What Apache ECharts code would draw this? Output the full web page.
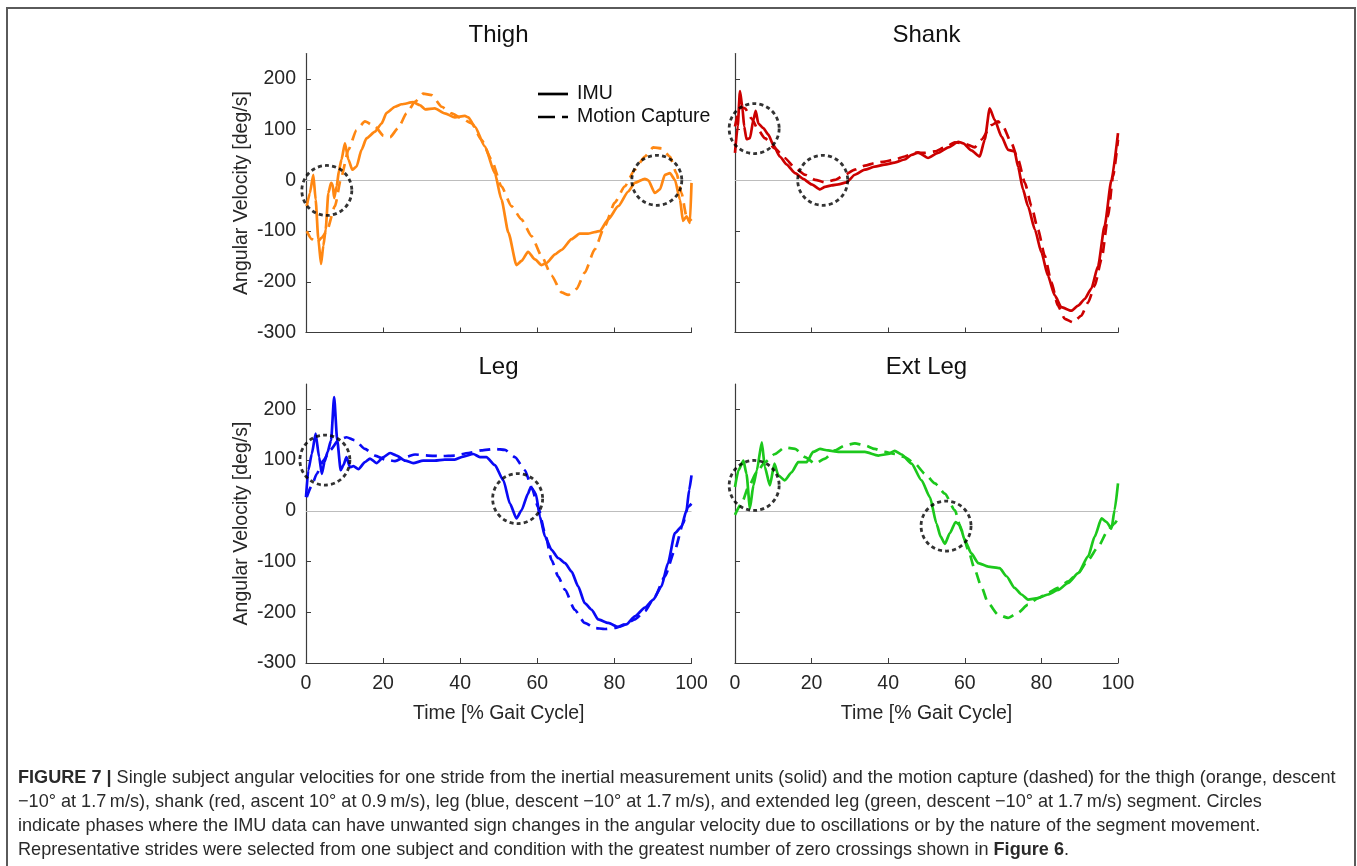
<!DOCTYPE html>
<html>
<head>
<meta charset="utf-8">
<title>Angular velocities per segment</title>
<script src="https://cdn.jsdelivr.net/npm/echarts@6/dist/echarts.min.js"></script>
<style>
  html, body { margin: 0; padding: 0; background: #fff; }
  #chart { width: 1357px; height: 866px; }
</style>
</head>
<body>
<div id="chart"></div>
<script>
// ---- tick values ----
const xTicks = [0, 20, 40, 60, 80, 100];
const yTicks = [-300, -200, -100, 0, 100, 200];

// ---- panel titles and legend entries ----
const panelTitles = ['Thigh', 'Shank', 'Leg', 'Ext Leg'];
const legendNames = ['IMU', 'Motion Capture'];

// ---- Thigh: [gait %, deg/s] ----
const thighImu = [
  [0.2,-51],[1.0,-25],[1.9,11],[2.5,-38],[3.2,-116],[3.9,-165],[4.5,-129],[5.1,-97],
  [5.8,-25],[6.5,-5],[6.9,-8],[7.3,-35],[7.95,-12],[8.6,21],[9.2,41],[10.1,73],
  [11.0,41],[12.0,21],[13.1,27],[14.4,60],[15.7,83],[17.9,96],[19.6,112],[20.9,133],
  [23.1,145],[24.8,150],[27.8,154],[29.6,148],[30.9,140],[33.4,142],[36.0,132],[38.6,124],
  [41.2,127],[42.1,124],[43.8,106],[46.4,67],[49.0,14],[50.7,-38],[52.5,-103],[54.6,-167],
  [55.9,-159],[57.6,-141],[59.4,-156],[61.1,-167],[62.4,-163],[64.6,-146],[66.3,-137],[68.9,-116],
  [71.0,-105],[73.2,-105],[76.2,-100],[78.4,-77],[81.0,-51],[83.6,-22],[85.3,-5],[87.9,3],
  [88.8,0],[90.5,-25],[91.8,-18],[93.1,11],[94.4,14],[95.7,1],[97.0,-38],[97.8,-80],
  [98.7,-71],[99.6,-84],[100,-5]
];
const thighMocap = [
  [0.2,-100],[1.5,-116],[2.8,-123],[4.1,-113],[5.4,-100],[7.5,-51],[9.2,8],[11.0,60],
  [13.1,99],[15.3,116],[17.9,106],[20.1,88],[21.8,85],[23.9,103],[26.1,132],[28.3,155],
  [30.4,171],[32.6,168],[35.2,145],[37.8,132],[40.4,122],[43.0,112],[45.5,80],[48.1,41],
  [50.7,-12],[53.3,-51],[55.9,-77],[58.5,-110],[61.1,-149],[63.7,-188],[66.3,-221],[68.0,-226],
  [70.2,-214],[72.3,-182],[74.9,-136],[77.5,-90],[80.1,-44],[82.7,-12],[85.3,21],[87.9,47],
  [90.1,65],[92.2,63],[94.4,47],[96.1,14],[97.4,-25],[98.7,-71],[100,-80]
];

// ---- Shank ----
const shankImu = [
  [0,54],[0.7,106],[1.3,176],[1.9,145],[2.4,106],[3.0,81],[3.9,83],[4.8,119],[5.4,137],
  [6.1,112],[7.4,103],[8.7,90],[10.0,70],[11.7,47],[13.5,31],[15.7,14],[17.8,3],[20.0,-8],
  [22.2,-18],[23.5,-13],[25.2,-10],[27.0,-8],[29.1,-4],[31.3,11],[33.9,21],[36.5,27],
  [39.1,31],[41.7,35],[44.3,41],[46.1,50],[47.8,55],[50.4,44],[53.0,54],[55.7,65],
  [58.3,76],[59.6,73],[61.7,59],[63.9,47],[65.2,80],[66.5,142],[67.8,119],[69.6,86],
  [71.3,60],[73.0,57],[73.9,27],[75.2,-18],[76.5,-51],[78.3,-97],[80.0,-142],[81.7,-188],
  [83.5,-227],[85.2,-250],[87.8,-257],[89.6,-247],[91.3,-234],[93.0,-214],[94.8,-169],
  [96.5,-90],[98.3,1],[100,93]
];
const shankMocap = [
  [0,106],[1.3,145],[2.6,142],[4.3,122],[6.1,99],[7.8,83],[10.4,63],[13.0,44],[15.7,24],
  [18.3,11],[20.9,1],[23.5,-4],[26.1,1],[28.7,11],[31.3,21],[33.9,29],[36.5,34],[39.1,37],
  [41.7,41],[44.3,47],[46.9,54],[49.6,54],[52.2,57],[54.8,65],[57.4,75],[60.0,72],
  [62.6,65],[64.3,80],[67.0,109],[68.7,116],[70.0,106],[72.2,73],[73.9,41],[75.7,-5],
  [77.4,-51],[79.1,-97],[80.9,-149],[82.6,-201],[84.3,-247],[86.1,-273],[88.3,-280],
  [90.4,-267],[92.2,-241],[93.9,-208],[95.7,-156],[97.4,-71],[98.7,8],[100,80]
];

// ---- Leg ----
const legImu = [
  [0,27],[0.6,80],[1.5,112],[2.5,152],[3.4,106],[4.1,73],[4.8,96],[5.6,116],[6.5,139],
  [7.3,224],[8.1,139],[9.0,80],[9.7,90],[10.5,106],[11.4,86],[12.3,88],[13.6,82],[15.3,96],
  [16.6,103],[18.3,94],[20.1,106],[21.8,114],[23.5,109],[25.7,99],[27.8,94],[30.4,99],
  [33.4,99],[36.0,101],[38.6,101],[40.8,107],[43.4,112],[45.1,106],[46.8,106],[49.0,90],
  [51.2,60],[52.9,14],[54.6,-15],[55.9,1],[57.6,34],[58.3,47],[59.6,34],[60.7,-12],
  [62.0,-51],[63.7,-77],[65.4,-93],[67.2,-103],[68.9,-120],[70.6,-149],[72.3,-182],
  [74.1,-195],[75.8,-214],[78.4,-221],[81.0,-229],[83.1,-224],[85.3,-208],[87.9,-191],
  [90.1,-175],[92.2,-149],[93.9,-103],[95.7,-44],[97.4,-31],[98.7,1],[99.4,41],[100,70]
];
const legMocap = [
  [0.2,27],[1.5,50],[2.8,73],[4.5,99],[6.2,119],[8.4,139],[10.5,145],[12.7,139],[15.3,122],
  [17.9,109],[20.5,101],[23.1,98],[25.7,106],[28.3,111],[31.7,109],[35.2,108],[38.6,109],
  [42.1,114],[45.5,119],[49.0,122],[51.6,120],[54.2,106],[56.8,80],[58.5,47],[60.2,8],
  [62.0,-44],[63.7,-97],[65.4,-129],[67.2,-156],[69.7,-195],[72.3,-221],[74.9,-231],
  [77.5,-233],[80.1,-231],[82.7,-224],[85.3,-214],[87.9,-198],[90.5,-169],[93.1,-129],
  [95.7,-77],[97.8,-25],[99.1,8],[100,14]
];

// ---- Ext Leg ----
const extLegImu = [
  [0,47],[0.9,80],[2.2,99],[3.0,73],[3.9,5],[4.8,50],[5.7,80],[7.0,135],[7.8,86],[9.1,50],
  [10.3,93],[11.3,70],[13.0,60],[14.8,76],[16.5,96],[18.7,96],[20.4,116],[22.2,122],
  [24.3,119],[27.0,116],[30.4,116],[33.9,116],[37.4,109],[40.0,112],[41.7,118],[43.5,111],
  [46.1,93],[48.7,60],[50.9,27],[52.6,-25],[53.7,-51],[54.8,-65],[56.1,-44],[57.6,-22],
  [58.7,-28],[60.0,-58],[61.7,-84],[63.5,-103],[66.1,-110],[69.1,-113],[70.9,-129],
  [73.0,-152],[74.8,-165],[76.5,-175],[79.1,-172],[81.7,-165],[84.3,-156],[87.0,-142],
  [89.6,-123],[92.2,-90],[93.9,-51],[95.7,-15],[97.0,-22],[98.3,-35],[99.1,1],[100,54]
];
const extLegMocap = [
  [0,-8],[1.7,14],[3.5,47],[5.7,76],[7.8,96],[10.4,112],[13.0,125],[15.7,122],[18.3,106],
  [20.9,93],[23.5,103],[26.1,119],[28.7,129],[31.3,133],[33.9,129],[36.5,122],[39.1,116],
  [41.7,112],[44.3,106],[47.0,93],[49.6,73],[52.2,54],[54.8,34],[57.4,1],[59.1,-38],
  [60.9,-77],[62.6,-116],[64.3,-149],[66.1,-182],[68.7,-205],[71.3,-211],[73.9,-201],
  [76.5,-185],[79.1,-172],[81.7,-162],[84.3,-152],[87.0,-139],[89.6,-123],[92.2,-97],
  [94.8,-71],[97.4,-38],[99.1,-25],[100,-15]
];

// ---- highlighted zero-crossing phases (circle centres, [gait %, deg/s]) ----
const thighCircles = [[5.4, -20], [91, 0]];
const shankCircles = [[5.0, 102], [22.9, 0]];
const legCircles = [[4.9, 100], [54.9, 24]];
const extLegCircles = [[5.0, 50], [55.1, -30]];

const imuSets = [thighImu, shankImu, legImu, extLegImu];
const mocapSets = [thighMocap, shankMocap, legMocap, extLegMocap];
const circleSets = [thighCircles, shankCircles, legCircles, extLegCircles];
const colors = ['#FF8712', '#CC0000', '#0A0AF5', '#1CC81C'];

const FONT = 'Liberation Sans, Arial, Helvetica, sans-serif';
const AX = '#3c3c3c';
const TXT = '#262626';
const DASH = [11, 7];

const grids = [
  { left: 306, top: 53.5, width: 385.5, height: 279 },
  { left: 735, top: 53.5, width: 383,   height: 279 },
  { left: 306, top: 384,  width: 385.5, height: 279 },
  { left: 735, top: 384,  width: 383,   height: 279 }
];

const xAxes = grids.map((g, i) => ({
  type: 'value', gridIndex: i, min: 0, max: 100, interval: 20,
  axisLine: { show: true, onZero: false, lineStyle: { color: AX, width: 1.2 } },
  axisTick: { show: true, inside: true, length: 5, lineStyle: { color: AX } },
  axisLabel: { show: i >= 2, margin: 11, color: TXT, fontSize: 19.5, fontFamily: FONT },
  splitLine: { show: false },
  name: i >= 2 ? 'Time [% Gait Cycle]' : '',
  nameLocation: 'middle', nameGap: 41,
  nameTextStyle: { color: TXT, fontSize: 19.5, fontFamily: FONT }
}));

const yAxes = grids.map((g, i) => ({
  type: 'value', gridIndex: i, min: -300, max: 250,
  axisLine: { show: true, onZero: false, lineStyle: { color: AX, width: 1.2 } },
  axisTick: { show: true, inside: true, length: 5, customValues: yTicks, lineStyle: { color: AX } },
  axisLabel: { show: i % 2 === 0, customValues: yTicks, margin: 10, color: TXT, fontSize: 19.5, fontFamily: FONT },
  splitLine: { show: false },
  name: i % 2 === 0 ? 'Angular Velocity [deg/s]' : '',
  nameLocation: 'middle', nameGap: 54, nameRotate: 90,
  nameTextStyle: { color: TXT, fontSize: 19.5, fontFamily: FONT }
}));

const series = [];
imuSets.forEach((data, i) => {
  series.push({
    type: 'line', xAxisIndex: i, yAxisIndex: i, data: data,
    showSymbol: false, symbol: 'none', smooth: 0.2, smoothMonotone: 'x',
    lineStyle: { color: colors[i], width: 2.7, type: 'solid' }, z: 3,
    markLine: {
      silent: true, symbol: ['none', 'none'], label: { show: false },
      lineStyle: { color: '#bdbdbd', width: 1, type: 'solid' },
      data: [{ yAxis: 0 }], z: 1
    }
  });
  series.push({
    type: 'line', xAxisIndex: i, yAxisIndex: i, data: mocapSets[i],
    showSymbol: false, symbol: 'none', smooth: 0.2, smoothMonotone: 'x',
    lineStyle: { color: colors[i], width: 2.7, type: DASH }, z: 2
  });
  series.push({
    type: 'scatter', xAxisIndex: i, yAxisIndex: i, data: circleSets[i],
    symbol: 'circle', symbolSize: 50, silent: true, z: 4,
    itemStyle: { color: 'rgba(0,0,0,0)', borderColor: '#000', borderWidth: 2.8, borderType: [4, 3.2] }
  });
});

const titleCenters = [[498.5, 35], [926.5, 35], [498.5, 367], [926.5, 367]];
const graphics = [
  { type: 'rect', shape: { x: 7, y: 8, width: 1348, height: 900 }, style: { fill: 'none', stroke: '#5a5a5a', lineWidth: 2 }, silent: true }
];
panelTitles.forEach((t, i) => {
  graphics.push({ type: 'text', x: titleCenters[i][0], y: titleCenters[i][1],
    style: { text: t, fill: '#111', font: '24px ' + FONT, textAlign: 'center', textVerticalAlign: 'middle' } });
});

// legend key inside the Thigh panel: solid = IMU, dashed = Motion Capture
legendNames.forEach((name, k) => {
  const y = 94 + 23 * k;
  graphics.push({ type: 'line', shape: { x1: 538, y1: y, x2: 568, y2: y },
    style: { stroke: '#000', lineWidth: 2.7, lineDash: k === 0 ? null : [17, 7] } });
  graphics.push({ type: 'text', x: 577, y: y,
    style: { text: name, fill: '#111', font: '19.5px ' + FONT, textVerticalAlign: 'middle' } });
});

const captionLines = [
  '{b|FIGURE 7 |} Single subject angular velocities for one stride from the inertial measurement units (solid) and the motion capture (dashed) for the thigh (orange, descent',
  '\u221210\u00b0 at 1.7\u2009m/s), shank (red, ascent 10\u00b0 at 0.9\u2009m/s), leg (blue, descent \u221210\u00b0 at 1.7\u2009m/s), and extended leg (green, descent \u221210\u00b0 at 1.7\u2009m/s) segment. Circles',
  'indicate phases where the IMU data can have unwanted sign changes in the angular velocity due to oscillations or by the nature of the segment movement.',
  'Representative strides were selected from one subject and condition with the greatest number of zero crossings shown in {b|Figure 6}.'
];
captionLines.forEach((line, k) => {
  graphics.push({ type: 'text', x: 18, y: 778 + 24 * k,
    style: { text: line, fill: '#2a2a2a', font: '18.1px ' + FONT, textVerticalAlign: 'middle',
      rich: { b: { fontWeight: 'bold', fontSize: 18.1, fontFamily: FONT, fill: '#2a2a2a' } } } });
});

const chart = echarts.init(document.getElementById('chart'), null, { renderer: 'canvas' });
chart.setOption({
  animation: false,
  backgroundColor: '#fff',
  grid: grids,
  xAxis: xAxes,
  yAxis: yAxes,
  graphic: graphics,
  series: series
});
</script>
</body>
</html>
